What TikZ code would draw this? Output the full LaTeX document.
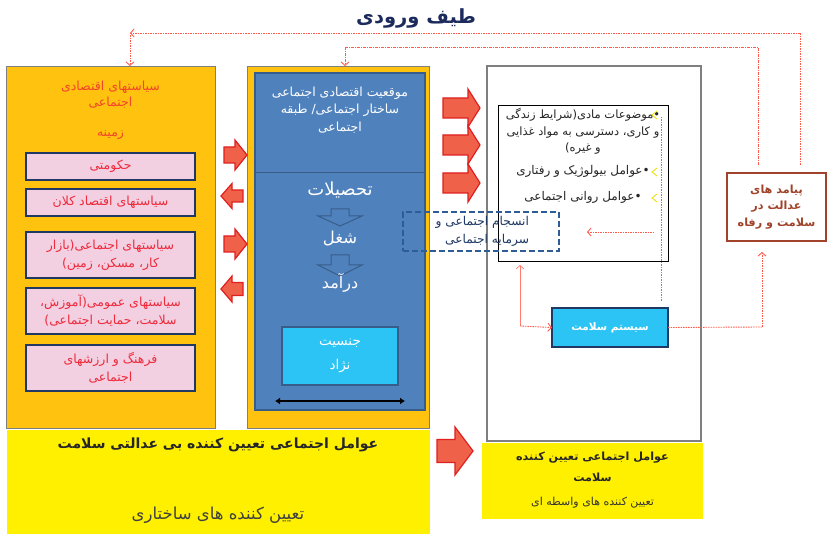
\documentclass[tikz,border=0pt]{standalone}
\usepackage{fontspec}
\usetikzlibrary{arrows.meta}
\TeXXeTstate=1
\newfontfamily\arabicfont[Script=Arabic]{DejaVu Sans}
\newcommand\fa[1]{{\arabicfont\beginR #1\endR}}
\definecolor{gold}{HTML}{FFC20E}
\definecolor{pinkfill}{HTML}{F2D0E1}
\definecolor{navyb}{HTML}{1F3864}
\definecolor{redtxt}{HTML}{EE2A3C}
\definecolor{titlered}{HTML}{F2452A}
\definecolor{blueb}{HTML}{4F81BD}
\definecolor{bluebd}{HTML}{385D8A}
\definecolor{cyanb}{HTML}{2CC4F4}
\definecolor{yel}{HTML}{FFF000}
\definecolor{arrfill}{HTML}{F0614A}
\definecolor{arrdraw}{HTML}{E0201F}
\definecolor{dotred}{HTML}{FF5A4A}
\definecolor{dashblue}{HTML}{2E5C96}
\definecolor{brownb}{HTML}{A0432A}
\definecolor{titlenavy}{HTML}{1C2A5C}
\definecolor{graybd}{HTML}{7F7F7F}
\definecolor{chev}{HTML}{EEDD00}
\newcommand\myharrow[6]{\draw[blockarr] ({#1},{#4-#5}) -- ({#2},{#4-#5}) -- ({#2},{#4-#6}) -- ({#3},{#4}) -- ({#2},{#4+#6}) -- ({#2},{#4+#5}) -- ({#1},{#4+#5}) -- cycle;}
\newcommand\myvarrow[6]{\draw[outarr] ({#1-#5},{#2}) -- ({#1-#5},{#3}) -- ({#1-#6},{#3}) -- ({#1},{#4}) -- ({#1+#6},{#3}) -- ({#1+#5},{#3}) -- ({#1+#5},{#2}) -- cycle;}
\tikzset{
  panel/.style={draw=graybd, fill=gold, line width=0.8pt},
  pinkb/.style={draw=navyb, fill=pinkfill, line width=1.2pt, text=redtxt, align=center, minimum width=169pt, font=\fontsize{12.5}{18}\selectfont},
  blockarr/.style={draw=arrdraw, fill=arrfill, line width=1.2pt, line join=miter},
  outarr/.style={draw=bluebd, fill=blueb, line width=1pt},
  dotline/.style={draw=dotred, line width=0.9pt, dash pattern=on 1.5pt off 1pt},
  dashdotline/.style={draw=dotred, line width=0.9pt, dash pattern=on 3pt off 1pt on 1pt off 1pt},
  barb/.tip={Straight Barb[length=3.5pt,width=8pt]},
  whitetxt/.style={text=white, align=center},
}
\begin{document}
\begin{tikzpicture}[x=1pt,y=-1pt, every node/.style={inner sep=0pt, outer sep=0pt}]
\useasboundingbox[fill=white] (0,0) rectangle (828,534);

% title
\node[font=\fontsize{19.5}{22}\selectfont\bfseries, text=titlenavy] (title) at (416,18) {\fa{طیف ورودی}};

% panels
\node[panel, minimum width=209pt, minimum height=362pt] (left) at (110.5,247) {};
\node[panel, minimum width=182pt, minimum height=362pt] (mid) at (338,247) {};
\node[draw=graybd, line width=1.2pt, fill=white, minimum width=214pt, minimum height=375pt] (right) at (594,253.5) {};

% left panel content
\node[text=titlered, font=\fontsize{12.5}{16}\selectfont, align=center] (lt) at (110.5,95) {\fa{سیاستهای اقتصادی}\\\fa{اجتماعی}};
\node[text=titlered, font=\fontsize{12.5}{14}\selectfont] (lz) at (110.5,135) {\fa{زمینه}};
\node[pinkb, minimum height=27pt] (p1) at (110.5,166.5) {\fa{حکومتی}};
\node[pinkb, minimum height=27pt] (p2) at (110.5,202.5) {\fa{سیاستهای اقتصاد کلان}};
\node[pinkb, minimum height=46pt] (p3) at (110.5,255) {\fa{سیاستهای اجتماعی(بازار}\\\fa{کار، مسکن، زمین)}};
\node[pinkb, minimum height=46pt] (p4) at (110.5,311) {\fa{سیاستهای عمومی(آموزش،}\\\fa{سلامت، حمایت اجتماعی)}};
\node[pinkb, minimum height=46pt] (p5) at (110.5,368) {\fa{فرهنگ و ارزشهای}\\\fa{اجتماعی}};

% middle panel content
\node[draw=bluebd, fill=blueb, line width=1.2pt, minimum width=170pt, minimum height=337pt] (blue) at (340,241.5) {};
\draw[bluebd, line width=1pt] (blue.west |- 0,173) -- (blue.east |- 0,173);
\node[whitetxt, font=\fontsize{12.5}{17.5}\selectfont] (pos) at (340,110) {\fa{موقعیت اقتصادی اجتماعی}\\\fa{ساختار اجتماعی/ طبقه}\\\fa{اجتماعی}};
\node[whitetxt, font=\fontsize{18}{20}\selectfont] (edu) at (340,190) {\fa{تحصیلات}};
\myvarrow{340}{209}{216}{226}{9}{22}
\node[whitetxt, font=\fontsize{16.5}{18}\selectfont] (job) at (340,238) {\fa{شغل}};
\myvarrow{340}{255}{265}{276}{9}{22}
\node[whitetxt, font=\fontsize{16}{18}\selectfont] (inc) at (340,283) {\fa{درآمد}};
\node[draw=bluebd, fill=cyanb, line width=1.2pt, minimum width=116pt, minimum height=58pt, whitetxt, font=\fontsize{13.5}{24}\selectfont] (gen) at (340,356) {\fa{جنسیت}\\\fa{نژاد}};
\coordinate (dl) at (275,401);
\coordinate (dr) at (405,401);
\draw[line width=2.5pt, {Latex[length=5pt,width=7pt]}-{Latex[length=5pt,width=7pt]}] (dl) -- (dr);

% red block arrows left <-> middle
\myharrow{224}{235}{247}{155}{8}{15}
\myharrow{243}{232}{221}{196}{6}{12.5}
\myharrow{224}{235}{247}{244}{8}{15}
\myharrow{243}{232}{221}{289}{6.5}{13}
% middle -> right
\myharrow{443}{468}{480}{108}{10}{19}
\myharrow{443}{468}{480}{145}{10}{19}
\myharrow{443}{468}{480}{183}{10}{19}
% bottom
\myharrow{437}{455}{473}{451}{11.5}{24}

% right panel content
\node[draw=black, line width=0.6pt, minimum width=170pt, minimum height=156pt] (inner) at (583,183) {};
\node[text=black!85, font=\fontsize{11.5}{16.5}\selectfont, align=center] (mat) at (583,131.5) {\fa{•موضوعات مادی(شرایط زندگی}\\\fa{و کاری، دسترسی به مواد غذایی}\\\fa{و غیره)}};
\node[text=black!85, font=\fontsize{12}{14}\selectfont] (bio) at (583,171) {\fa{•عوامل بیولوژیک و رفتاری}};
\node[text=black!85, font=\fontsize{12}{14}\selectfont] (psy) at (583,197) {\fa{•عوامل روانی اجتماعی}};
\foreach \yy in {115,172,198} \draw[chev, line width=0.8pt] (657,\yy-4) -- (652,\yy) -- (657,\yy+4);

\node[draw=dashblue, line width=1.8pt, dash pattern=on 6pt off 3pt, minimum width=156pt, minimum height=39pt] (coh) at (481,231.5) {};
\node[text=navyb, font=\fontsize{12.2}{18}\selectfont, align=right, anchor=east] (cohtxt) at (529,231) {\fa{انسجام اجتماعی و}\\\fa{سرمایه اجتماعی}};

\node[draw=navyb, fill=cyanb, line width=1.6pt, minimum width=116pt, minimum height=39pt, text=white, font=\fontsize{10.5}{13}\selectfont\bfseries] (sys) at (610,327.5) {\fa{سیستم سلامت}};

\node[draw=brownb, line width=2.2pt, fill=white, minimum width=99pt, minimum height=68pt, text=brownb, align=center, font=\fontsize{11.2}{16.5}\selectfont\bfseries] (out) at (776.5,207) {\fa{پیامد های}\\\fa{عدالت در}\\\fa{سلامت و رفاه}};

% connectors
\coordinate (oc) at (130,33);
\draw[dotline, -{barb}] (out.north -| 800,0) ++(0,-8) |- (oc);
\draw[dotline, -{barb}] (oc) -- (oc |- left.north) ;
\coordinate (ic) at (345,47);
\draw[dashdotline] (out.north -| 758,0) ++(0,-8) |- (ic);
\draw[dashdotline, -{barb}] (ic) -- (ic |- mid.north);
\coordinate (sc) at (762,327);
\draw[dotline] (sys.east) -- (sc);
\draw[dotline, -{barb}] (sc) -- (762,252);
\coordinate (lc) at (520,326);
\draw[draw=dotred!80, line width=0.7pt, -{barb}] (lc) -- (520,265);
\draw[dotline, -{barb}] (lc) -- (sys.west);
\draw[dotline] (661,117) -- (661,302);
\draw[dotline, -{barb}] (654,232) -- (587,232);

% bottom yellow boxes
\node[fill=yel, minimum width=423pt, minimum height=104pt] (byl) at (218.5,482) {};
\node[text=black!85, font=\fontsize{14}{16}\selectfont\bfseries] (bt1) at (218,445) {\fa{عوامل اجتماعی تعیین کننده بی عدالتی سلامت}};
\node[text=black!75, font=\fontsize{16.5}{18}\selectfont] (bt2) at (218,515) {\fa{تعیین کننده های ساختاری}};
\node[fill=yel, minimum width=221pt, minimum height=76pt] (byr) at (592.5,481) {};
\node[text=black!85, font=\fontsize{11.2}{21}\selectfont\bfseries, align=center] (rt1) at (592.5,466.5) {\fa{عوامل اجتماعی تعیین کننده}\\\fa{سلامت}};
\node[text=black!80, font=\fontsize{11}{13}\selectfont] (rt2) at (592.5,503) {\fa{تعیین کننده های واسطه ای}};
\end{tikzpicture}
\end{document}
